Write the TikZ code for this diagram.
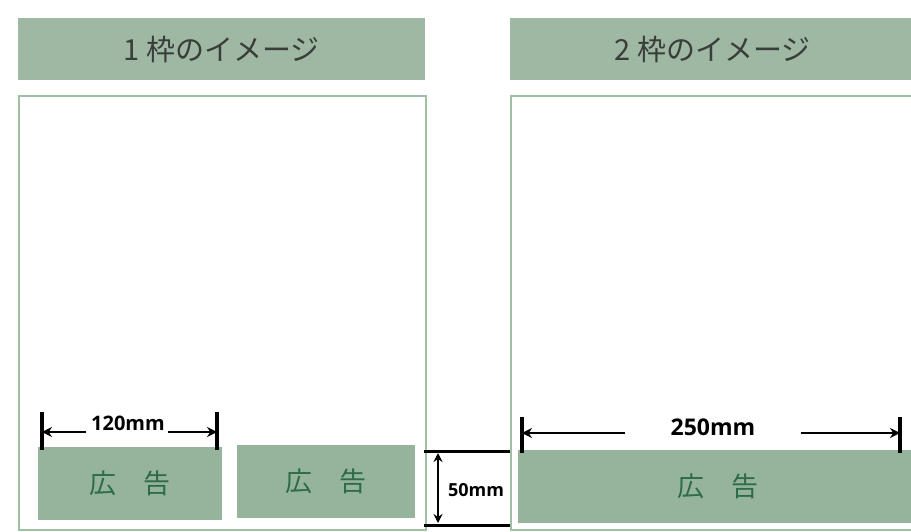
\documentclass[tikz,border=0pt]{standalone}
\usepackage{fontspec}
\setmainfont{Open Sans}
\newfontfamily\jpfont{Noto Sans CJK JP}
\usetikzlibrary{arrows.meta, positioning}
\definecolor{bannergreen}{RGB}{158,184,163}
\definecolor{adgreen}{RGB}{150,180,156}
\definecolor{framegreen}{RGB}{160,192,165}
\definecolor{adtext}{RGB}{46,108,72}
\definecolor{titletext}{RGB}{58,62,58}

\begin{document}
\begin{tikzpicture}[x=1pt, y=-1pt,
        banner/.style={fill=bannergreen, inner sep=0pt, anchor=north west, text=titletext,
                       font=\jpfont\fontsize{29}{29}\selectfont},
        frame/.style={draw=framegreen, line width=1.5pt, inner sep=0pt, anchor=north west},
        adbox/.style={fill=adgreen, inner sep=0pt, anchor=north west, minimum height=73pt, text=adtext,
                      font=\jpfont\fontsize{27}{27}\selectfont},
        dimbar/.style={line width=3.5pt},
        dimline/.style={line width=2.5pt, -{Stealth[length=10pt, width=10pt]}},
        dimlabel/.style={inner sep=0pt, font=\bfseries}]
                    \useasboundingbox (0,0) rectangle (911,531);

                    % Banners:
                    \node[banner, minimum width=407pt, minimum height=62pt] (title1) at (18,18) {1 枠のイメージ};
                    \node[banner, minimum width=405pt, minimum height=62pt] (title2) at (510,18) {2 枠のイメージ};

                    % Frames:
                    \node[frame, minimum width=407pt, minimum height=434pt] (frame1) at (18,95) {};
                    \node[frame, minimum width=410pt, minimum height=434pt] (frame2) at (510,95) {};

                    % Ads:
                    \node[adbox, minimum width=184pt] (ad1) at (38,447) {広　告};
                    \node[adbox, minimum width=178pt] (ad2) at (237,445) {広　告};
                    \node[adbox, minimum width=400pt] (ad3) at (518,450) {広　告};

                    % 120mm:
                    \coordinate (d1l) at (42,432);
                    \coordinate (d1r) at (217,432);
                    \draw[dimbar] (42,412) -- (42,450);
                    \draw[dimbar] (217,412) -- (217,450);
                    \node[dimlabel, font=\bfseries\fontsize{20}{20}\selectfont] (len1) at (128,423) {120mm};
                    \draw[dimline] ([xshift=-5pt]len1.west |- d1l) -- (d1l);
                    \draw[dimline] ([xshift=3pt]len1.east |- d1r) -- (d1r);

                    % 50mm:
                    \coordinate (d2t) at (438,453);
                    \coordinate (d2b) at (438,523);
                    \draw[line width=3pt] (424,451) -- (510,451);
                    \draw[line width=3pt] (424,525) -- (510,525);
                    \draw[dimline, line width=2pt, {Stealth[length=9pt, width=9pt]}-{Stealth[length=9pt, width=9pt]}] (d2t) -- (d2b);
                    \node[dimlabel, font=\bfseries\fontsize{18}{18}\selectfont] (len2) at (476,490) {50mm};

                    % 250mm:
                    \coordinate (d3l) at (522,433);
                    \coordinate (d3r) at (900,433);
                    \draw[dimbar] (522,417) -- (522,453);
                    \draw[dimbar] (900,417) -- (900,453);
                    \node[dimlabel, font=\bfseries\fontsize{23}{23}\selectfont, minimum width=175pt] (len3) at (713,427) {250mm};
                    \draw[dimline] (len3.west |- d3l) -- (d3l);
                    \draw[dimline] (len3.east |- d3r) -- (d3r);
                \end{tikzpicture}
\end{document}
